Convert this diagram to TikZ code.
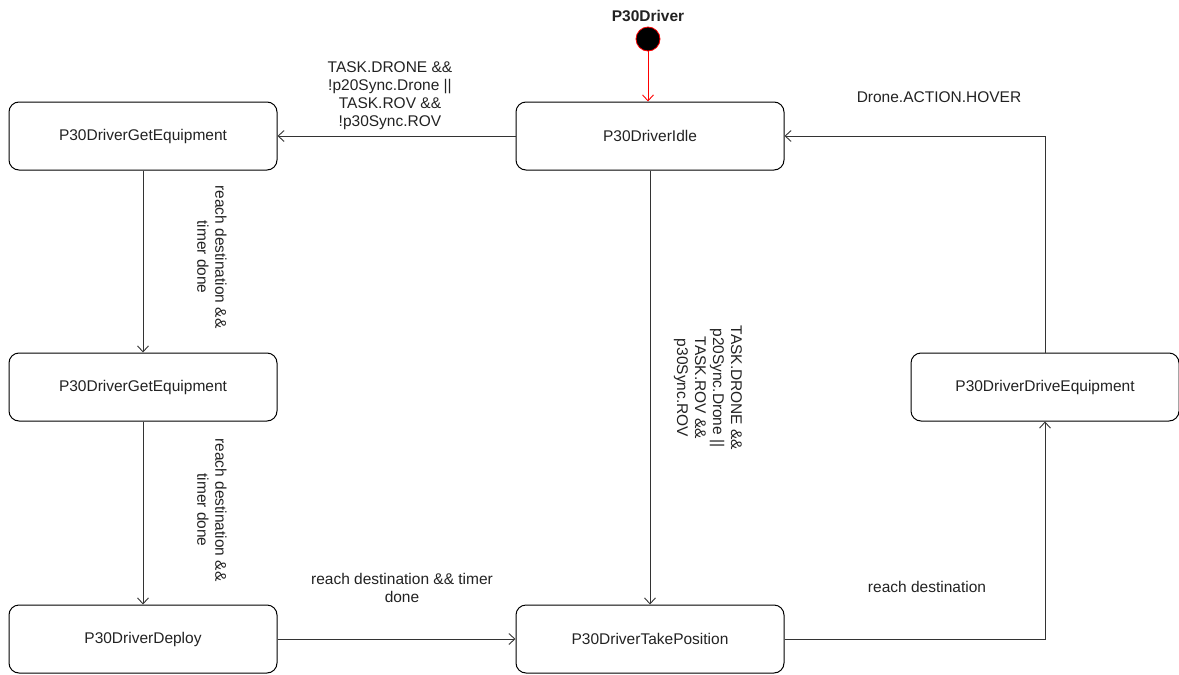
\documentclass[tikz,border=0pt]{standalone}
\usepackage{fontspec}
\setmainfont{Liberation Sans}
\usetikzlibrary{arrows.meta}

\definecolor{linegray}{HTML}{333333}
\definecolor{txtgray}{HTML}{222222}

\begin{document}
\begin{tikzpicture}[x=1pt, y=-1pt,
		main/.style={draw=black, line width=1pt, rounded corners=10pt, minimum width=268pt, minimum height=68pt, inner sep=0pt, text=txtgray, font=\fontsize{15.5}{18}\selectfont},
		lbl/.style={align=center, inner sep=0pt, text=txtgray, font=\fontsize{15.5}{18}\selectfont},
		edge/.style={draw=linegray, line width=0.9pt, -{Straight Barb[length=6pt, width=11pt]}}]
		\useasboundingbox (0,0) rectangle (1179,675);

		\node[lbl, font=\fontsize{15.5}{18}\selectfont\bfseries] (title) at (648,16) {P30Driver};
		\node[circle, draw=red, fill=black, line width=0.8pt, minimum size=24pt, inner sep=0pt] (start) at (648,39) {};

		\node[main] (idle) at (650,136) {P30DriverIdle};
		\node[main] (get1) at (143,136) {P30DriverGetEquipment};
		\node[main] (get2) at (143,387) {P30DriverGetEquipment};
		\node[main] (deploy) at (143,639) {P30DriverDeploy};
		\node[main] (take) at (650,639) {P30DriverTakePosition};
		\node[main] (drive) at (1045,387) {P30DriverDriveEquipment};

		\draw[edge, draw=red] (start) -- (start |- idle.north);
		\draw[edge] (idle) -- (get1);
		\draw[edge] (get1) -- (get2);
		\draw[edge] (get2) -- (deploy);
		\draw[edge] (deploy) -- (take);
		\draw[edge] (idle) -- (take);
		\draw[edge] (take.east) -| (drive.south);
		\draw[edge] (drive.north) |- (idle.east);

		\node[lbl] (l1) at (390,96) {TASK.DRONE \&\&\\!p20Sync.Drone ||\\TASK.ROV \&\&\\!p30Sync.ROV};
		\node[lbl, rotate=-90] (l2) at (212,257) {reach destination \&\&\\timer done};
		\node[lbl, rotate=-90] (l3) at (212,510) {reach destination \&\&\\timer done};
		\node[lbl, rotate=-90] (l4) at (708,388) {TASK.DRONE \&\&\\p20Sync.Drone ||\\TASK.ROV \&\&\\p30Sync.ROV};
		\node[lbl] (l5) at (402,588) {reach destination \&\& timer\\done};
		\node[lbl] (l6) at (927,587) {reach destination};
		\node[lbl] (l7) at (939,97) {Drone.ACTION.HOVER};
	\end{tikzpicture}
\end{document}
